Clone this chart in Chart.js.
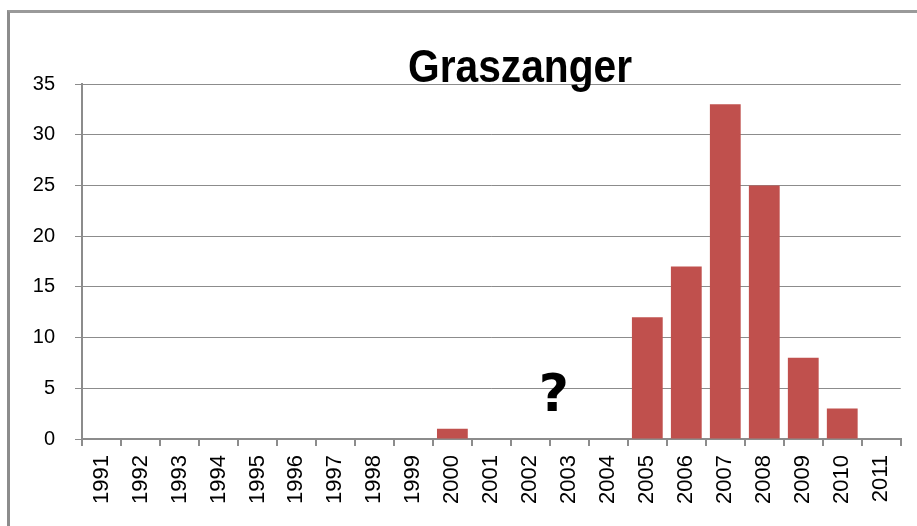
<!DOCTYPE html>
<html>
<head>
<meta charset="utf-8">
<script src="https://cdn.jsdelivr.net/npm/chart.js@4"></script>
<style>
  html, body { margin: 0; padding: 0; background: #fff; }
  #wrap { position: relative; width: 917px; height: 526px; overflow: hidden; }
  #frame { position: absolute; left: 7px; top: 10px; width: 940px; height: 560px;
           border-left: 3px solid #8c8c8c; border-top: 3px solid #9a9a9a; pointer-events: none; }
  canvas { position: absolute; left: 0; top: 0; }
</style>
</head>
<body>
<div id="wrap">
  <canvas id="grafico" width="917" height="526"></canvas>
  <div id="frame"></div>
</div>
<script>
// Datos
const jaren = ['1991', '1992', '1993', '1994', '1995', '1996', '1997', '1998', '1999', '2000',
               '2001', '2002', '2003', '2004', '2005', '2006', '2007', '2008', '2009', '2010', '2011'];
const aantallen = [0, 0, 0, 0, 0, 0, 0, 0, 0, 1,
                   0, 0, 0, 0, 12, 17, 33, 25, 8, 3, 0];
const yTicks = [0, 5, 10, 15, 20, 25, 30, 35];
const titel = 'Graszanger';
// vraagteken tussen 2002 en 2003 (geen gegevens)
const vraagPositie = { x: 11.6, y: 4.1, tekst: '?' };

const grijs = '#8c8c8c';

// Titel en vraagteken tekenen
const extraTekst = {
    id: 'extraTekst',
    afterDraw(chart) {
        const ctx = chart.ctx;
        ctx.save();
        // titel, smal zoals in Excel
        ctx.font = 'bold 46px "Liberation Sans", Arial, sans-serif';
        ctx.fillStyle = '#000';
        ctx.textBaseline = 'alphabetic';
        ctx.textAlign = 'center';
        const w = ctx.measureText(titel).width;
        const sx = 224 / w;
        ctx.translate(520, 82);
        ctx.scale(sx, 1);
        ctx.fillText(titel, 0, 0);
        ctx.restore();

        ctx.save();
        const px = chart.scales.x.getPixelForValue(vraagPositie.x);
        const py = chart.scales.y.getPixelForValue(vraagPositie.y);
        ctx.font = 'bold 52px "DejaVu Sans", sans-serif';
        ctx.fillStyle = '#000';
        ctx.textAlign = 'center';
        ctx.textBaseline = 'middle';
        ctx.fillText(vraagPositie.tekst, px, py);
        ctx.restore();
    }
};

const config = {
    type: 'bar',
    data: {
        labels: jaren,
        datasets: [{
            data: aantallen,
            backgroundColor: '#C0504D',
            borderWidth: 0,
            barPercentage: 0.79,
            categoryPercentage: 1.0
        }]
    },
    options: {
        responsive: false,
        animation: false,
        layout: { padding: { top: 84, right: 15, left: 0, bottom: 0 } },
        plugins: {
            legend: { display: false },
            title: { display: false },
            tooltip: { enabled: false }
        },
        scales: {
            x: {
                offset: true,
                afterFit(scale) { scale.height = 87; },
                grid: {
                    display: true,
                    offset: true,
                    drawOnChartArea: false,
                    drawTicks: true,
                    tickLength: 7,
                    color: grijs,
                    lineWidth: 2
                },
                border: { display: true, color: grijs, width: 2 },
                ticks: {
                    autoSkip: false,
                    maxRotation: 90,
                    minRotation: 90,
                    padding: 9,
                    color: '#000',
                    font: { family: '"Liberation Sans", Arial, sans-serif', size: 22 }
                }
            },
            y: {
                min: 0,
                max: 35,
                afterFit(scale) { scale.width = 82; },
                afterBuildTicks(scale) { scale.ticks = yTicks.map(v => ({ value: v })); },
                grid: {
                    color: grijs,
                    lineWidth: 1,
                    tickLength: 7
                },
                border: { display: true, color: grijs, width: 2 },
                ticks: {
                    padding: 20,
                    color: '#000',
                    font: { family: '"Liberation Sans", Arial, sans-serif', size: 20 }
                }
            }
        }
    },
    plugins: [extraTekst]
};

const ctx = document.getElementById('grafico').getContext('2d');
new Chart(ctx, config);
</script>
</body>
</html>
